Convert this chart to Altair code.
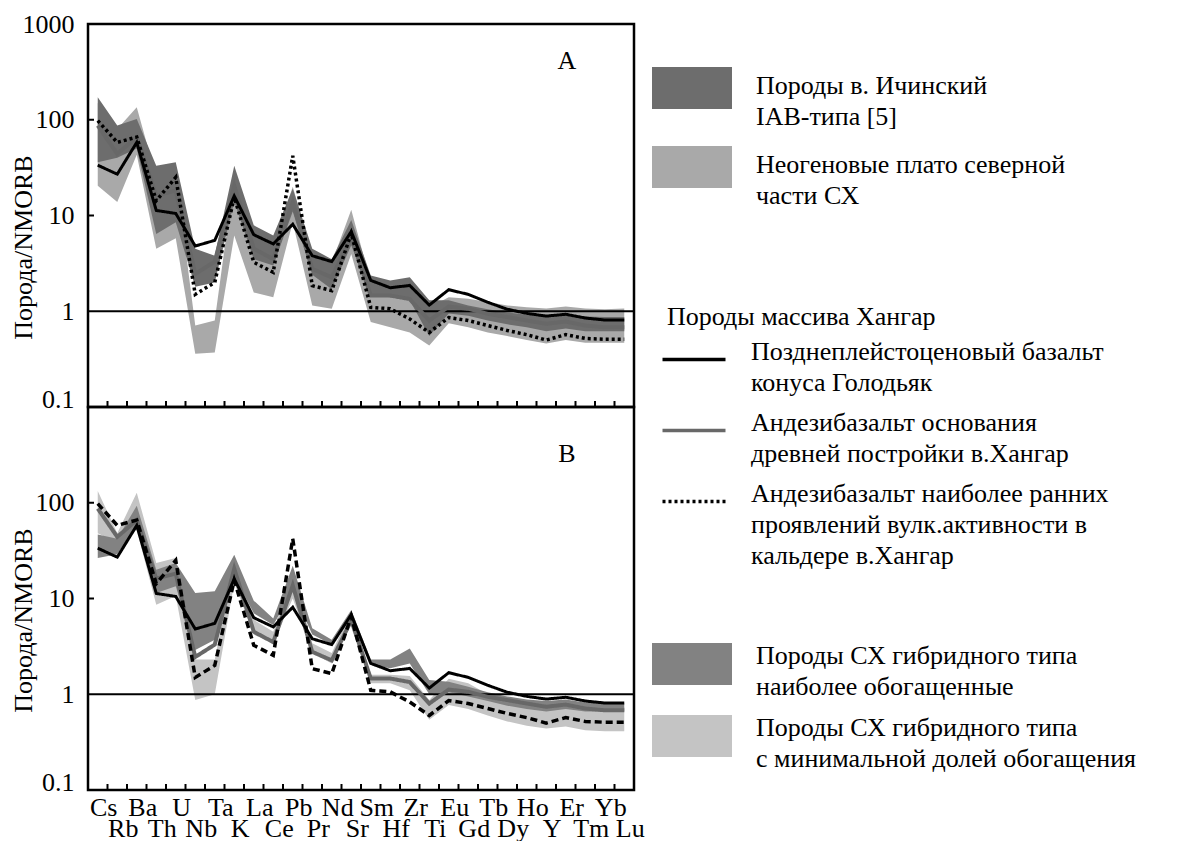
import json
import altair as alt
import pandas as pd

ELEMENTS = ["Cs", "Rb", "Ba", "Th", "U", "Nb", "Ta", "K", "La", "Ce", "Pb", "Pr", "Nd", "Sr",
            "Sm", "Hf", "Zr", "Ti", "Eu", "Gd", "Tb", "Dy", "Ho", "Y", "Er", "Tm", "Yb", "Lu"]

# sample lines (same samples in both panels)
BASALT = [33.5, 27, 58, 11.3, 10.5, 4.8, 5.5, 16, 6.3, 5.05, 8.1, 3.8, 3.3, 6.8, 2.1, 1.76, 1.86,
          1.16, 1.68, 1.5, 1.24, 1.05, 0.95, 0.89, 0.93, 0.85, 0.81, 0.81]
ANDESITE_BASE = [87, 44, 66, 16.1, 18.2, 2.45, 3.3, 20.5, 4.5, 3.5, 13.7, 2.77, 2.26, 5.9, 1.46,
                 1.46, 1.34, 0.8, 1.12, 1.06, 0.94, 0.87, 0.80, 0.74, 0.78, 0.71, 0.68, 0.68]
ANDESITE_EARLY = [98, 58, 66, 14.3, 25, 1.5, 2.0, 15.5, 3.25, 2.55, 42, 1.85, 1.64, 6.5, 1.1,
                  1.06, 0.83, 0.6, 0.86, 0.80, 0.71, 0.63, 0.57, 0.5, 0.57, 0.52, 0.51, 0.51]

# panel A fields
A_DARK_HI = [172, 87, 102, 33, 36, 4.5, 3.8, 33, 7.9, 6.2, 19, 4.5, 3.5, 9, 2.36, 2.09, 2.26,
             1.3, 1.3, 1.15, 1.05, 0.97, 0.92, 0.88, 0.92, 0.88, 0.87, 0.87]
A_DARK_LO = [36, 40, 50, 6.4, 8.5, 1.8, 2.0, 14, 3.5, 3.0, 11, 2.4, 1.7, 4.9, 1.47, 1.4, 1.3,
             0.55, 0.95, 0.9, 0.8, 0.73, 0.68, 0.62, 0.66, 0.62, 0.62, 0.62]
A_LIGHT_HI = [150, 80, 135, 25, 28, 0.71, 0.8, 25, 6, 5, 20, 4, 3.2, 11.5, 2.0, 1.8, 1.9, 1.1,
              1.4, 1.35, 1.25, 1.15, 1.1, 1.07, 1.12, 1.07, 1.05, 1.07]
A_LIGHT_LO = [20.5, 13.8, 43, 4.5, 5.8, 0.36, 0.37, 6.2, 1.57, 1.4, 8.5, 1.15, 1.06, 3.96, 0.77,
              0.68, 0.6, 0.44, 0.75, 0.68, 0.6, 0.55, 0.5, 0.46, 0.5, 0.47, 0.47, 0.47]

# panel B fields
B_DARK_HI = [46.5, 42, 93, 20, 23.5, 11.4, 11.9, 28.7, 9.5, 6.2, 22, 4.9, 3.7, 7.6, 2.3, 2.3,
             3.0, 1.41, 1.35, 1.2, 1.05, 0.95, 0.88, 0.85, 0.88, 0.82, 0.8, 0.8]
B_DARK_LO = [26.5, 29, 57, 11.4, 13.4, 2.9, 3.7, 17, 7.0, 5.3, 12, 4.2, 3.3, 6.25, 2.03, 1.87,
             2.1, 1.0, 1.05, 0.95, 0.85, 0.76, 0.7, 0.66, 0.7, 0.66, 0.66, 0.66]
B_LIGHT_HI = [133, 48, 127, 23.5, 26.5, 2.3, 2.3, 25, 6, 4.5, 18, 3.4, 2.7, 7.5, 1.6, 1.6, 1.55,
              0.87, 1.45, 1.3, 1.0, 0.9, 0.82, 0.78, 0.82, 0.75, 0.73, 0.73]
B_LIGHT_LO = [48, 38, 52, 8.6, 10.6, 0.87, 1.0, 14.5, 4.2, 3.4, 10, 2.7, 2.1, 6.0, 1.3, 1.3, 1.1,
              0.54, 0.77, 0.7, 0.6, 0.52, 0.47, 0.44, 0.46, 0.42, 0.41, 0.41]

Y_TICKS_A = [0.1, 1, 10, 100, 1000]
Y_TICKS_B = [0.1, 1, 10, 100]
INNER_TICKS = [10, 100]
REF_LINE = [1]

S_BASALT = "Позднеплейстоценовый базальт\nконуса Голодьяк"
S_BASE = "Андезибазальт основания\nдревней постройки в.Хангар"
S_EARLY = "Андезибазальт наиболее ранних\nпроявлений вулк.активности в\nкальдере в.Хангар"
A_DARK = "Породы в. Ичинский\nIAB-типа [5]"
A_LIGHT = "Неогеновые плато северной\nчасти СХ"
B_DARK = "Породы СХ гибридного типа\nнаиболее обогащенные"
B_LIGHT = "Породы СХ гибридного типа\nс минимальной долей обогащения"

FONT = "Liberation Serif"
FS = 26
W, H = 546, 383

xscale = alt.Scale(type="band", domain=ELEMENTS, paddingInner=0, paddingOuter=0)
yscale = alt.Scale(type="log", domain=[0.1, 1000], nice=False)

ODD = "indexof(%s, datum.value) %% 2 == 1" % json.dumps(ELEMENTS)
SPLIT = "split(datum.label, '\\n')"


def y_axis(values, title_y):
    return alt.Axis(values=values, format="~g", title="Порода/NMORB", titleFont=FONT,
                    titleFontSize=FS, titleFontWeight="normal", titleColor="black",
                    titleX=-65, titleY=title_y, titleAngle=270, titleAlign="center",
                    titleBaseline="middle", labelFont=FONT, labelFontSize=FS,
                    labelColor="black", labelPadding=14, ticks=False, domain=False,
                    grid=False, labelFlush=False, labelOverlap=False,
                    labelBaseline={"condition": {"test": "datum.value < 0.5", "value": "alphabetic"},
                                   "value": "middle"})


x_axis_b = alt.Axis(title=None, labelAngle=0, ticks=False, domain=False, grid=False,
                    labelFont=FONT, labelFontSize=FS, labelColor="black", labelPadding=25,
                    labelOffset=6, labelAlign="center", labelOverlap=False,
                    labelBaseline={"condition": {"test": ODD, "value": "top"}, "value": "alphabetic"})


def band_df(hi, lo, name):
    return pd.DataFrame({"el": ELEMENTS, "hi": hi, "lo": lo, "series": name})


def line_df(vals, name):
    return pd.DataFrame({"el": ELEMENTS, "v": vals, "series": name})


def panel(yax, xax, bands, fill_scale, fill_legend, lines, label, label_y):
    layers = []
    for hi, lo, name in bands:
        layers.append(
            alt.Chart(band_df(hi, lo, name)).mark_area(opacity=1, interpolate="linear").encode(
                x=alt.X("el:N", scale=xscale, axis=xax, bandPosition=0.5),
                y=alt.Y("hi:Q", scale=yscale, axis=yax),
                y2="lo:Q",
                fill=alt.Fill("series:N", scale=fill_scale, legend=fill_legend),
            ))
    layers.append(
        alt.Chart(pd.DataFrame({"v": REF_LINE})).mark_rule(color="black", strokeWidth=2).encode(
            y=alt.Y("v:Q", scale=yscale, axis=yax)))
    layers.extend(lines)
    layers.append(
        alt.Chart(pd.DataFrame({"v": INNER_TICKS})).mark_rule(color="black", strokeWidth=2).encode(
            y=alt.Y("v:Q", scale=yscale, axis=yax), x=alt.value(0), x2=alt.value(6)))
    layers.append(
        alt.Chart(pd.DataFrame({"el": ELEMENTS})).mark_rule(color="black", strokeWidth=2).encode(
            x=alt.X("el:N", scale=xscale, axis=xax, bandPosition=0),
            y=alt.value(H - 6), y2=alt.value(H)))
    layers.append(
        alt.Chart(pd.DataFrame({"t": [label]})).mark_text(
            font=FONT, fontSize=FS, align="center", baseline="alphabetic", color="black").encode(
            text="t:N", x=alt.value(479), y=alt.value(label_y)))
    return alt.layer(*layers).properties(width=W, height=H)


# ---------- panel A ----------
yaxA = y_axis(Y_TICKS_A, 223)
line_scale_stroke = alt.Scale(domain=[S_BASALT, S_BASE, S_EARLY], range=["#000000", "#686868", "#000000"])
line_scale_dash = alt.Scale(domain=[S_BASALT, S_BASE, S_EARLY], range=[[1, 0], [1, 0], [3, 3]])
line_legend = alt.Legend(title="Породы массива Хангар", orient="none", legendX=579, legendY=279.5,
                         direction="vertical", symbolType="M-1.26,0H1.26", symbolSize=2500,
                         symbolStrokeWidth=3.5, labelFont=FONT, labelFontSize=FS, labelColor="black",
                         labelOffset=30, labelBaseline="alphabetic", labelExpr=SPLIT, labelLimit=700,
                         titleFont=FONT, titleFontSize=FS, titleFontWeight="normal", titleColor="black",
                         titleBaseline="top", titlePadding=3, titleLimit=700, rowPadding=8, padding=0)


def a_line(vals, name, width):
    return alt.Chart(line_df(vals, name)).mark_line(strokeWidth=width).encode(
        x=alt.X("el:N", scale=xscale, axis=None, bandPosition=0.5),
        y=alt.Y("v:Q", scale=yscale, axis=yaxA),
        stroke=alt.Stroke("series:N", scale=line_scale_stroke, legend=line_legend),
        strokeDash=alt.StrokeDash("series:N", scale=line_scale_dash, legend=line_legend),
    )


linesA = [a_line(ANDESITE_BASE, S_BASE, 4), a_line(ANDESITE_EARLY, S_EARLY, 3.5),
          a_line(BASALT, S_BASALT, 3)]

fill_scale_A = alt.Scale(domain=[A_DARK, A_LIGHT], range=["#6d6d6d", "#a9a9a9"])
fill_legend_A = alt.Legend(title=None, orient="none", legendX=568, legendY=34, direction="vertical",
                           symbolType="M-1.111,-0.75H1.111V0.417H-1.111Z", symbolSize=5184,
                           symbolStrokeWidth=0, symbolOpacity=1, labelFont=FONT, labelFontSize=FS,
                           labelColor="black", labelOffset=28, labelBaseline="alphabetic",
                           labelExpr=SPLIT, labelLimit=700, rowPadding=7, padding=0)

chartA = panel(yaxA, None,
               [(A_LIGHT_HI, A_LIGHT_LO, A_LIGHT), (A_DARK_HI, A_DARK_LO, A_DARK)],
               fill_scale_A, fill_legend_A, linesA, "A", 45)

# ---------- panel B ----------
yaxB = y_axis(Y_TICKS_B, 213)


def b_line(vals, color, width, dash):
    return alt.Chart(line_df(vals, "x")).mark_line(color=color, strokeWidth=width, strokeDash=dash).encode(
        x=alt.X("el:N", scale=xscale, axis=x_axis_b, bandPosition=0.5),
        y=alt.Y("v:Q", scale=yscale, axis=yaxB),
    )


linesB = [b_line(ANDESITE_BASE, "#686868", 4, [1, 0]), b_line(ANDESITE_EARLY, "#000000", 3.5, [7, 4]),
          b_line(BASALT, "#000000", 3, [1, 0])]

fill_scale_B = alt.Scale(domain=[B_DARK, B_LIGHT], range=["#828282", "#c4c4c4"])
fill_legend_B = alt.Legend(title=None, orient="none", legendX=568, legendY=221, direction="vertical",
                           symbolType="M-1.111,-0.583H1.111V0.583H-1.111Z", symbolSize=5184,
                           symbolStrokeWidth=0, symbolOpacity=1, labelFont=FONT, labelFontSize=FS,
                           labelColor="black", labelOffset=28, labelBaseline="alphabetic",
                           labelExpr=SPLIT, labelLimit=700, rowPadding=0, padding=0)

chartB = panel(yaxB, x_axis_b,
               [(B_LIGHT_HI, B_LIGHT_LO, B_LIGHT), (B_DARK_HI, B_DARK_LO, B_DARK)],
               fill_scale_B, fill_legend_B, linesB, "B", 55)

chart = alt.vconcat(chartA, chartB, spacing=0, bounds="flush").resolve_scale(
    fill="independent", stroke="independent", strokeDash="independent"
).properties(
    padding={"left": 0, "top": 1, "right": 5, "bottom": 5}
).configure(
    background="white", style={"guide-label": {"lineHeight": 31}}
).configure_view(
    stroke="black", strokeWidth=2.5
)

chart.save("out.html", embed_options={"renderer": "svg", "actions": False})
